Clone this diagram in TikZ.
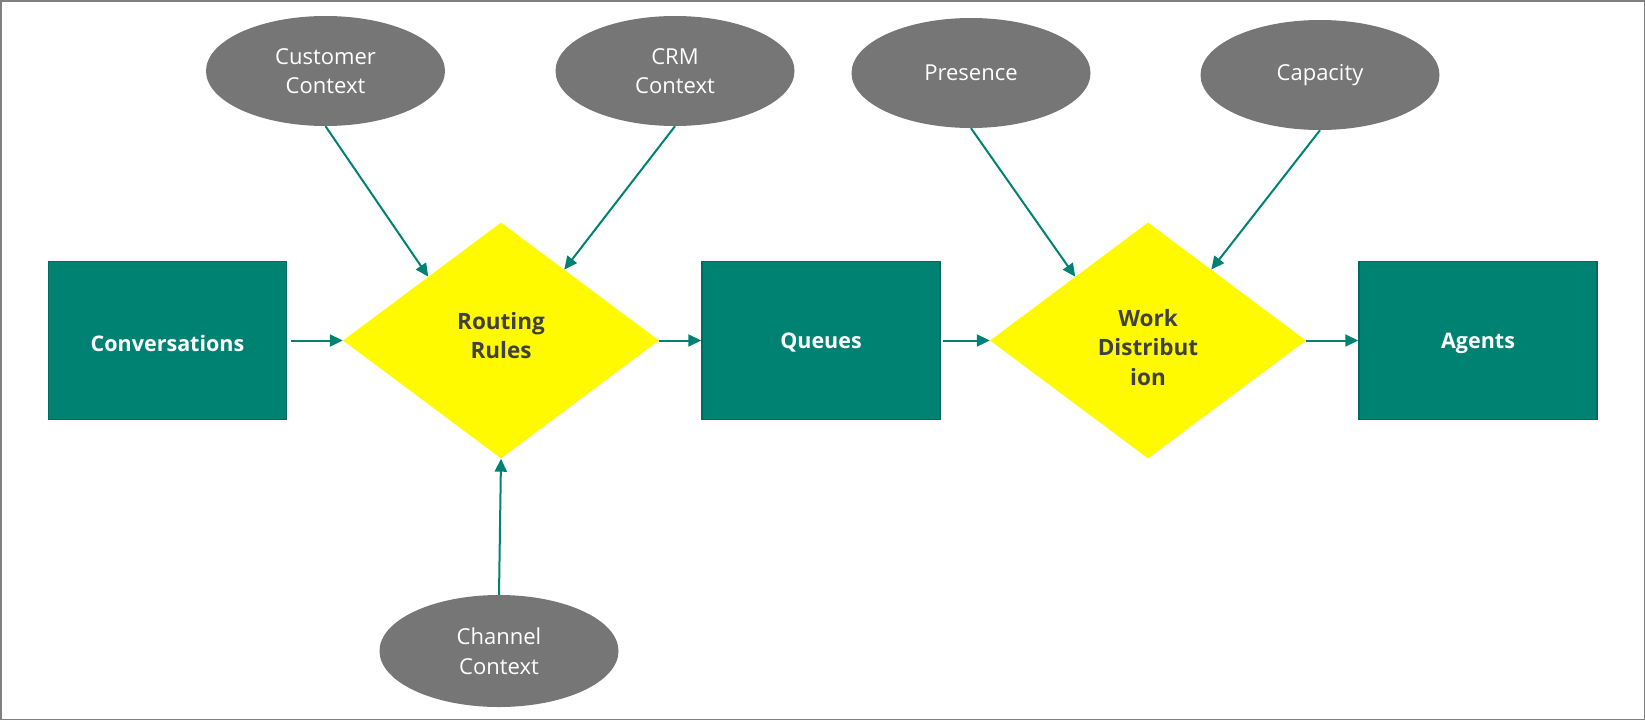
\documentclass[tikz,border=0pt]{standalone}
\usepackage{fontspec}
\setmainfont{Open Sans}
\usetikzlibrary{shapes.geometric,arrows.meta,calc}
\definecolor{tealfill}{HTML}{008272}
\definecolor{tealedge}{HTML}{006B5E}
\definecolor{ellgray}{HTML}{767676}
\definecolor{diamtext}{HTML}{404040}
\definecolor{framegray}{HTML}{808080}
\definecolor{diamyellow}{HTML}{FFFA00}
\tikzset{
  procbox/.style={rectangle, fill=tealfill, draw=tealedge, line width=1.5pt,
    minimum width=238pt, minimum height=158pt, inner sep=0pt},
  ptext/.style={inner sep=0pt, text=white, yshift=-2.5pt,
    font=\fontsize{21.5}{28}\selectfont\bfseries, align=center},
  decision/.style={diamond, fill=diamyellow, draw=none, inner sep=0pt,
    minimum width=316pt, minimum height=236pt},
  dtext/.style={inner sep=0pt, text=diamtext,
    font=\fontsize{22.5}{29.5}\selectfont\bfseries, align=center},
  factor/.style={ellipse, fill=ellgray, draw=none, inner sep=0pt,
    minimum width=239pt, minimum height=110pt,
    text=white, font=\fontsize{22}{29.5}\selectfont, align=center},
  flow/.style={draw=tealfill, line width=2pt, -{Triangle[length=13pt,width=12pt]}}
}
\begin{document}
\begin{tikzpicture}[x=1pt,y=-1pt]
\useasboundingbox (0,0) rectangle (1645,720);
\draw[framegray, line width=1.5pt] (0.75,0.75) rectangle (1644.25,719.25);

\node[procbox, label={[ptext]center:Conversations}] (conv) at (167.5,340.5) {};
\node[procbox, label={[ptext]center:Queues}] (queues) at (821,340.5) {};
\node[procbox, label={[ptext]center:Agents}] (agents) at (1478,340.5) {};

\node[decision, label={[dtext, yshift=5pt]center:Routing\\Rules}] (routing) at (501,340.5) {};
\node[decision, label={[dtext, yshift=-7pt]center:Work\\Distribut\\ion}] (workd) at (1148,340.5) {};

\node[factor] (cust) at (325.5,71) {Customer\\Context};
\node[factor] (crm) at (675,71) {CRM\\Context};
\node[factor] (pres) at (971,73) {Presence};
\node[factor] (cap) at (1320,75) {Capacity};
\node[factor, minimum height=112pt] (chan) at (499,651) {Channel\\Context};

\draw[flow] ([xshift=4pt]conv.east) -- (routing.west);
\draw[flow] (routing.east) -- (queues.west);
\draw[flow] ([xshift=2pt]queues.east) -- (workd.west);
\draw[flow] (workd.east) -- (agents.west);

\draw[flow] (cust.south) -- ($(routing.west)!0.54!(routing.north)$);
\draw[flow] (crm.south) -- ($(routing.north)!0.40!(routing.east)$);
\draw[flow] (pres.south) -- ($(workd.west)!0.54!(workd.north)$);
\draw[flow] (cap.south) -- ($(workd.north)!0.40!(workd.east)$);
\draw[flow] (chan.north) -- (routing.south);
\end{tikzpicture}
\end{document}
